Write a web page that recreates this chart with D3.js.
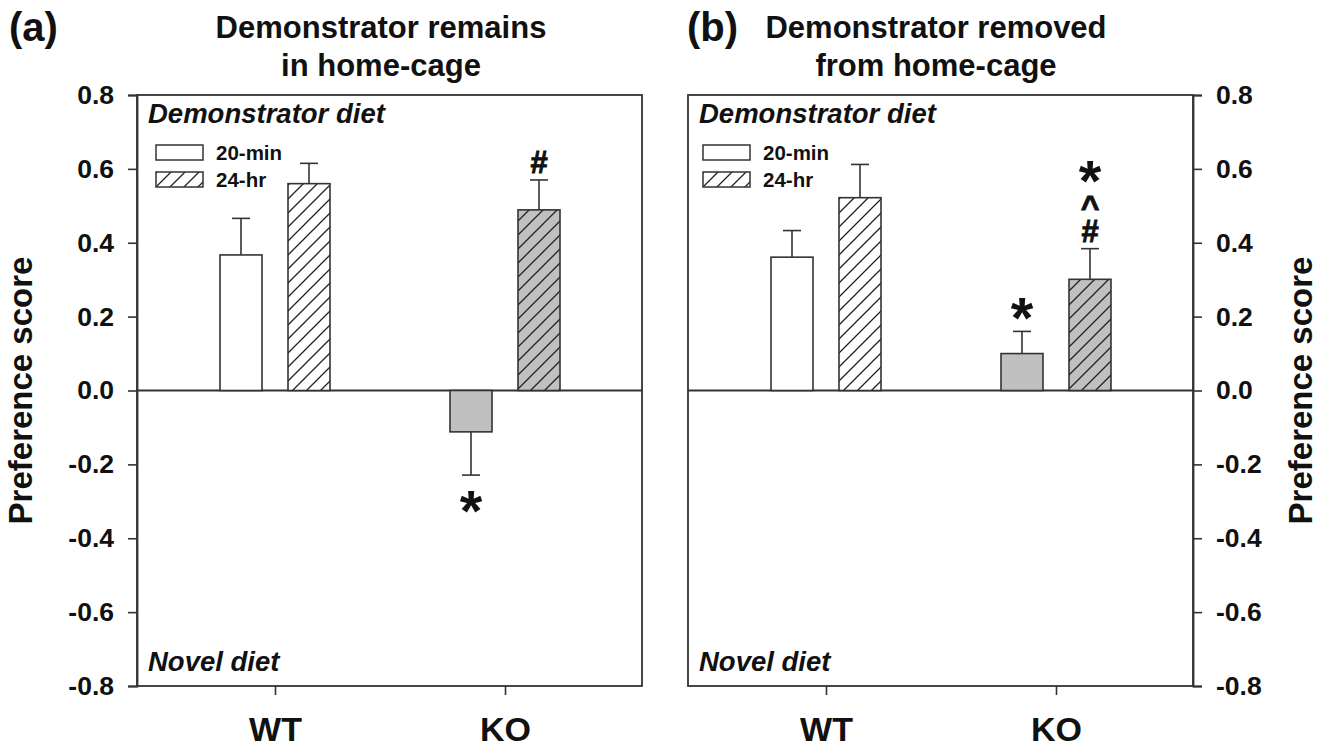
<!DOCTYPE html>
<html><head><meta charset="utf-8">
<script src="https://cdn.jsdelivr.net/npm/d3@7"></script>
<style>
body{margin:0;background:#fff;}
text{font-family:"Liberation Sans",Arial,sans-serif;font-weight:bold;fill:#111;}
</style></head>
<body><svg id="chart" width="1334" height="747"></svg>
<script>
// ---- data ----
const groups = ["WT", "KO"];
const seriesNames = ["20-min", "24-hr"];
const yTicks = [-0.8, -0.6, -0.4, -0.2, 0.0, 0.2, 0.4, 0.6, 0.8];
const panelLetters = ["(a)", "(b)"];
const panelTitles = [["Demonstrator remains", "in home-cage"], ["Demonstrator removed", "from home-cage"]];
const yLabel = "Preference score";
const topNote = "Demonstrator diet";
const bottomNote = "Novel diet";
// panel (a)
const a20min = [0.367, -0.112];
const a20minSem = [0.099, 0.117];
const a24hr = [0.560, 0.489];
const a24hrSem = [0.055, 0.081];
// panel (b)
const b20min = [0.361, 0.100];
const b20minSem = [0.072, 0.060];
const b24hr = [0.522, 0.301];
const b24hrSem = [0.090, 0.083];
// significance marks: [group, series, symbols from bar outward]
const marksA = [["KO", "20-min", ["*"]], ["KO", "24-hr", ["#"]]];
const marksB = [["KO", "20-min", ["*"]], ["KO", "24-hr", ["#", "^", "*"]]];

const panels = [
  {means: [a20min, a24hr], sems: [a20minSem, a24hrSem], marks: marksA, left: 137, axis: "left"},
  {means: [b20min, b24hr], sems: [b20minSem, b24hrSem], marks: marksB, left: 688, axis: "right"}
];

const svg = d3.select("#chart");
const W = 505, plotTop = 95, plotBottom = 686;
const stroke = "#333";
const FF = "Liberation Sans, Arial, sans-serif";

const defs = svg.append("defs");
[["hatchWhite", "#fff"], ["hatchGray", "#c0c0c0"]].forEach(([id, bg]) => {
  const p = defs.append("pattern").attr("id", id).attr("patternUnits", "userSpaceOnUse")
    .attr("width", 14).attr("height", 14);
  p.append("rect").attr("width", 14).attr("height", 14).attr("fill", bg);
  p.append("path").attr("d", "M-3.5,3.5 L3.5,-3.5 M0,14 L14,0 M10.5,17.5 L17.5,10.5")
    .attr("stroke", "#222").attr("stroke-width", 1.3);
});

const y = d3.scaleLinear().domain([-0.8, 0.8]).range([plotBottom, plotTop]);
const barW = 42, offset = 34;

// symbol glyph styles: font size, centre-to-baseline factor
const symStyle = {"*": [58, 0.50], "#": [31, 0.34], "^": [32, 0.53]};
// gap (px) from previous anchor to symbol centre
const symGap = {"*": 22, "#": 17, "^": 31};

panels.forEach((P, pi) => {
  const g = svg.append("g").attr("transform", `translate(${P.left},0)`);
  const x = d3.scalePoint().domain(groups).range([138, 368]);
  const sx = d3.scalePoint().domain(seriesNames).range([-offset, offset]);

  g.append("rect").attr("x", 0).attr("y", plotTop).attr("width", W).attr("height", plotBottom - plotTop)
    .attr("fill", "none").attr("stroke", stroke).attr("stroke-width", 1.8);
  g.append("line").attr("x1", 0).attr("x2", W).attr("y1", y(0)).attr("y2", y(0))
    .attr("stroke", stroke).attr("stroke-width", 1.8);

  const ax = P.axis === "left" ? d3.axisLeft(y) : d3.axisRight(y);
  ax.tickValues(yTicks).tickFormat(d => d.toFixed(1)).tickSize(9).tickPadding(14);
  const ag = g.append("g").attr("transform", `translate(${P.axis === "left" ? 0 : W},0)`).call(ax);
  ag.select(".domain").attr("stroke", stroke).attr("stroke-width", 1.8);
  ag.selectAll(".tick line").attr("stroke", stroke).attr("stroke-width", 1.6);
  ag.selectAll(".tick text").attr("font-size", 26.5).attr("font-weight", "bold")
    .attr("font-family", FF).attr("fill", "#111");

  const xa = d3.axisBottom(x).tickSize(9).tickPadding(22);
  const xg = g.append("g").attr("transform", `translate(0,${plotBottom})`).call(xa);
  xg.select(".domain").remove();
  xg.selectAll(".tick line").attr("stroke", stroke).attr("stroke-width", 1.6);
  xg.selectAll(".tick text").attr("font-size", 34).attr("font-weight", "bold")
    .attr("font-family", FF).attr("fill", "#111");

  const rows = [];
  groups.forEach((gr, gi) => seriesNames.forEach((s, si) => {
    rows.push({group: gr, series: s, v: P.means[si][gi], e: P.sems[si][gi]});
  }));
  const fillOf = d => {
    if (d.series === "24-hr") return d.group === "WT" ? "url(#hatchWhite)" : "url(#hatchGray)";
    return d.group === "WT" ? "#fff" : "#c0c0c0";
  };
  rows.forEach(d => {
    const cx = x(d.group) + sx(d.series);
    const tip = d.v >= 0 ? d.v + d.e : d.v - d.e;
    g.append("line").attr("x1", cx).attr("x2", cx).attr("y1", y(d.v)).attr("y2", y(tip))
      .attr("stroke", stroke).attr("stroke-width", 1.6);
    g.append("line").attr("x1", cx - 9).attr("x2", cx + 9).attr("y1", y(tip)).attr("y2", y(tip))
      .attr("stroke", stroke).attr("stroke-width", 1.6);
    d.tip = tip; d.cx = cx;
  });
  g.selectAll("rect.bar").data(rows).enter().append("rect").attr("class", "bar")
    .attr("x", d => x(d.group) + sx(d.series) - barW / 2)
    .attr("y", d => y(Math.max(0, d.v)))
    .attr("width", barW)
    .attr("height", d => Math.abs(y(d.v) - y(0)))
    .attr("fill", fillOf).attr("stroke", stroke).attr("stroke-width", 1.6);

  P.marks.forEach(([gr, s, syms]) => {
    const d = rows.find(r => r.group === gr && r.series === s);
    const up = d.v >= 0;
    let c = y(d.tip);
    syms.forEach((sym, k) => {
      const [size, f] = symStyle[sym];
      let gap = symGap[sym];
      if (k > 0 && sym === "*") gap = 29;
      if (!up) gap = 27;
      c += up ? -gap : gap;
      const t = g.append("text").attr("x", d.cx).attr("y", c + f * size).attr("text-anchor", "middle")
        .attr("font-size", size).text(sym);
      if (sym !== "*") t.attr("stroke", "#111").attr("stroke-width", 0.9);
    });
  });

  g.append("text").attr("x", 11).attr("y", 123).attr("font-size", 27.5).attr("font-style", "italic").text(topNote);
  g.append("text").attr("x", 11).attr("y", 671).attr("font-size", 27.5).attr("font-style", "italic").text(bottomNote);

  const lg = g.append("g").attr("transform", `translate(${pi === 0 ? 19 : 15},145)`);
  seriesNames.forEach((s, si) => {
    lg.append("rect").attr("x", 0).attr("y", si * 27).attr("width", 47).attr("height", 15)
      .attr("fill", si === 0 ? "#fff" : "url(#hatchWhite)").attr("stroke", stroke).attr("stroke-width", 1.5);
    lg.append("text").attr("x", 60).attr("y", si * 27 + 15).attr("font-size", 20.5).text(s);
  });

  const tc = pi === 0 ? 244 : 248;
  g.append("text").attr("x", tc).attr("y", 38).attr("text-anchor", "middle").attr("font-size", 31).text(panelTitles[pi][0]);
  g.append("text").attr("x", tc).attr("y", 76).attr("text-anchor", "middle").attr("font-size", 31).text(panelTitles[pi][1]);
  g.append("text").attr("x", pi === 0 ? -128 : -1).attr("y", 41).attr("font-size", 40).text(panelLetters[pi]);

  const lx = P.axis === "left" ? -105 : W + 119;
  g.append("text").attr("transform", `translate(${lx},${y(0)}) rotate(-90)`)
    .attr("text-anchor", "middle").attr("font-size", 33).text(yLabel);
});
</script></body></html>
